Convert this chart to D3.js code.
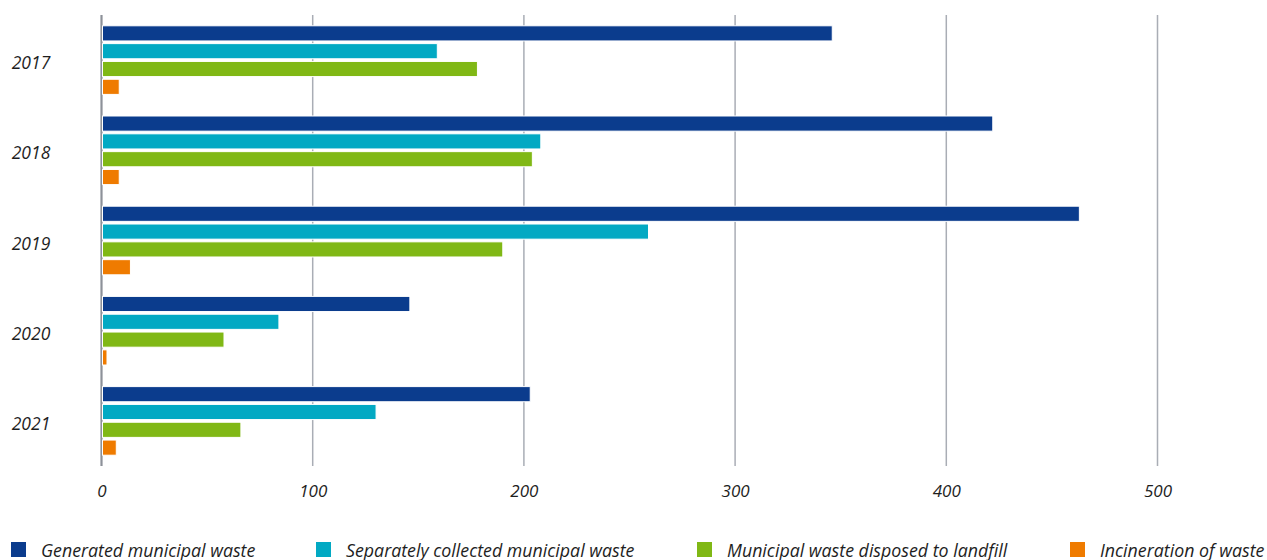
<!DOCTYPE html>
<html>
<head>
<meta charset="utf-8">
<script src="https://cdn.jsdelivr.net/npm/d3@7/dist/d3.min.js"></script>
<style>
  html, body { margin: 0; padding: 0; background: #ffffff; }
  svg { display: block; }
  text { font-family: "Open Sans", "Noto Sans", sans-serif; font-style: italic; fill: #1e1e1e; }
</style>
</head>
<body>
<svg id="chart" width="1267" height="560"></svg>
<script>
// Municipal waste by year (thousand tonnes)
const years = ["2017", "2018", "2019", "2020", "2021"];
const seriesNames = [
  "Generated municipal waste",
  "Separately collected municipal waste",
  "Municipal waste disposed to landfill",
  "Incineration of waste"
];
const generated = [346, 422, 463, 146, 203];
const separatelyCollected = [159, 208, 259, 84, 130];
const landfill = [178, 204, 190, 58, 66];
const incineration = [8.4, 8.4, 13.7, 2.6, 7];
const xTicks = [0, 100, 200, 300, 400, 500];
const seriesColors = ["#0b3c8d", "#02a9c3", "#80b815", "#ef7b00"];

const seriesValues = [generated, separatelyCollected, landfill, incineration];

const svg = d3.select("#chart");

const plot = { left: 101.5, right: 1157.5, top: 15, bottom: 466 };

const x = d3.scaleLinear().domain([0, 500]).range([plot.left, plot.right]);

const y0 = d3.scaleBand()
  .domain(years)
  .range([plot.top, plot.bottom])
  .paddingInner(0.2)
  .paddingOuter(0.1);

const y1 = d3.scaleBand()
  .domain(seriesNames)
  .range([0, y0.bandwidth()])
  .paddingInner(0.15)
  .paddingOuter(0.1);

const color = d3.scaleOrdinal().domain(seriesNames).range(seriesColors);

// vertical gridlines
svg.append("g")
  .selectAll("line")
  .data(xTicks.filter(d => d !== 0))
  .join("line")
  .attr("x1", d => x(d)).attr("x2", d => x(d))
  .attr("y1", plot.top).attr("y2", plot.bottom)
  .attr("stroke", "#a9adb5")
  .attr("stroke-width", 1.5);

// zero axis line
svg.append("line")
  .attr("x1", x(0)).attr("x2", x(0))
  .attr("y1", plot.top).attr("y2", plot.bottom)
  .attr("stroke", "#8d9199")
  .attr("stroke-width", 2.2);

// bars
const rows = years.map((yr, i) => ({
  year: yr,
  values: seriesNames.map((name, j) => ({ name, value: seriesValues[j][i] }))
}));

const groups = svg.append("g")
  .selectAll("g")
  .data(rows)
  .join("g")
  .attr("transform", d => `translate(0,${y0(d.year)})`);

groups.selectAll("rect")
  .data(d => d.values)
  .join("rect")
  .attr("x", x(0) + 1)
  .attr("y", d => y1(d.name))
  .attr("width", d => x(d.value) - x(0) - 1)
  .attr("height", y1.bandwidth())
  .attr("fill", d => color(d.name))
  .attr("stroke", "#ffffff")
  .attr("stroke-width", 1);

// year labels
svg.append("g")
  .selectAll("text")
  .data(years)
  .join("text")
  .attr("x", 31)
  .attr("y", d => y0(d) + y0.bandwidth() / 2 + 2)
  .attr("text-anchor", "middle")
  .attr("dominant-baseline", "central")
  .attr("font-size", 17.5)
  .text(d => d);

// x axis labels
const xAxis = d3.axisBottom(x).tickValues(xTicks).tickSize(0).tickPadding(0);
const axisG = svg.append("g")
  .attr("transform", `translate(0,${plot.bottom})`)
  .call(xAxis);
axisG.select(".domain").remove();
axisG.selectAll("text")
  .attr("y", 31)
  .attr("dy", 0)
  .attr("font-size", 17)
  .attr("font-family", null)
  .style("font-style", "italic")
  .attr("fill", "#1e1e1e");

// legend
const legendX = [11, 316, 697, 1070];
const legend = svg.append("g")
  .selectAll("g")
  .data(seriesNames)
  .join("g")
  .attr("transform", (d, i) => `translate(${legendX[i]},542)`);

legend.append("rect")
  .attr("width", 15).attr("height", 15)
  .attr("fill", d => color(d));

legend.append("text")
  .attr("x", 30)
  .attr("y", 14.5)
  .attr("font-size", 17.8)
  .text(d => d);
</script>
</body>
</html>
